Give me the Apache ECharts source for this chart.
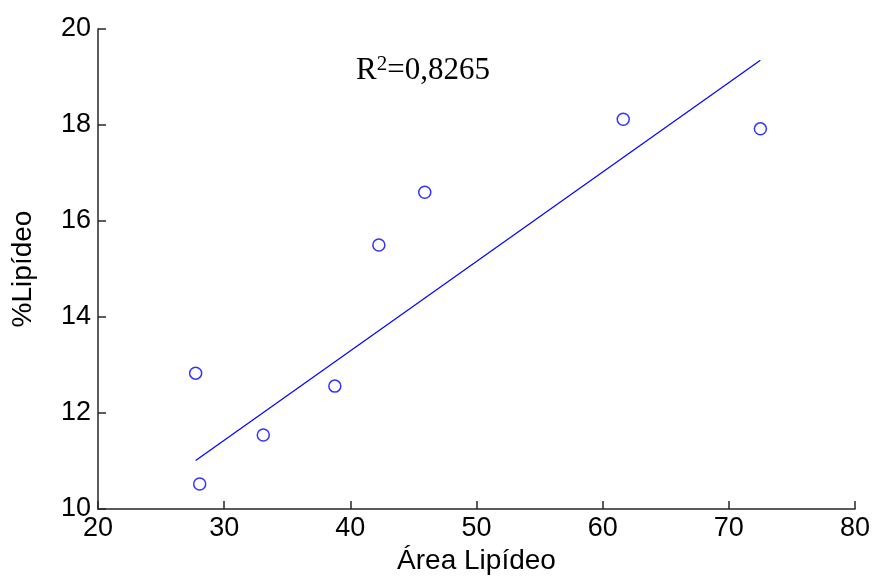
<!DOCTYPE html>
<html>
<head>
<meta charset="utf-8">
<script src="https://cdn.jsdelivr.net/npm/echarts@6/dist/echarts.min.js"></script>
<style>
  html, body { margin: 0; padding: 0; background: #fff; }
  #chart { width: 873px; height: 579px; }
</style>
</head>
<body>
<div id="chart"></div>
<script>
// Measured samples: lipid peak area vs. lipid percentage
const areaLipideo = [27.74, 28.06, 33.1, 38.77, 42.26, 45.9, 61.63, 72.5];
const pctLipideo  = [12.83, 10.52, 11.54, 12.56, 15.5, 16.6, 18.12, 17.92];

// Endpoints of the fitted regression line
const fitX = [27.74, 72.5];
const fitY = [11.01, 19.35];

const r2Label = '0,8265';

const axisColor = '#262626';
const markColor = '#0000ff';
const sans = '"Liberation Sans", Arial, sans-serif';
const serif = '"Liberation Serif", "Times New Roman", serif';

const chart = echarts.init(document.getElementById('chart'), null, { renderer: 'canvas' });

chart.setOption({
  animation: false,
  backgroundColor: '#ffffff',
  grid: { left: 98, right: 18, top: 29, bottom: 70, containLabel: false, outerBoundsMode: 'none' },
  title: {
    text: '{r|R}{s|2}{r|=' + r2Label + '}',
    left: 356,
    top: 54,
    padding: 0,
    textStyle: {
      fontWeight: 'normal',
      rich: {
        r: { fontFamily: serif, fontSize: 31, fontWeight: 'normal', color: '#000' },
        s: { fontFamily: serif, fontSize: 21, fontWeight: 'normal', color: '#000', padding: [0, 0, 13, 0] }
      }
    }
  },
  xAxis: {
    type: 'value',
    min: 20, max: 80, interval: 10,
    name: 'Área Lipídeo',
    nameLocation: 'middle',
    nameGap: 38,
    nameTextStyle: { fontFamily: sans, fontSize: 28, color: '#000' },
    axisLine: { show: true, onZero: false, lineStyle: { color: axisColor, width: 1.5 } },
    axisTick: { show: true, inside: true, length: 8, lineStyle: { color: axisColor, width: 1.5 } },
    axisLabel: { fontFamily: sans, fontSize: 27, color: '#000', margin: 6 },
    splitLine: { show: false }
  },
  yAxis: {
    type: 'value',
    min: 10, max: 20, interval: 2,
    name: '%Lipídeo',
    nameLocation: 'middle',
    nameGap: 61,
    nameTextStyle: { fontFamily: sans, fontSize: 28, color: '#000' },
    axisLine: { show: true, onZero: false, lineStyle: { color: axisColor, width: 1.5 } },
    axisTick: { show: true, inside: true, length: 8, lineStyle: { color: axisColor, width: 1.5 } },
    axisLabel: { fontFamily: sans, fontSize: 27, color: '#000', margin: 7 },
    splitLine: { show: false }
  },
  series: [
    {
      type: 'line',
      data: fitX.map((x, i) => [x, fitY[i]]),
      symbol: 'none',
      lineStyle: { color: markColor, width: 1.2 },
      silent: true,
      z: 2
    },
    {
      type: 'scatter',
      data: areaLipideo.map((x, i) => [x, pctLipideo[i]]),
      symbol: 'circle',
      symbolSize: 12,
      itemStyle: { color: 'rgba(0,0,0,0)', borderColor: markColor, borderWidth: 1.5 },
      z: 3
    }
  ]
});
</script>
</body>
</html>
